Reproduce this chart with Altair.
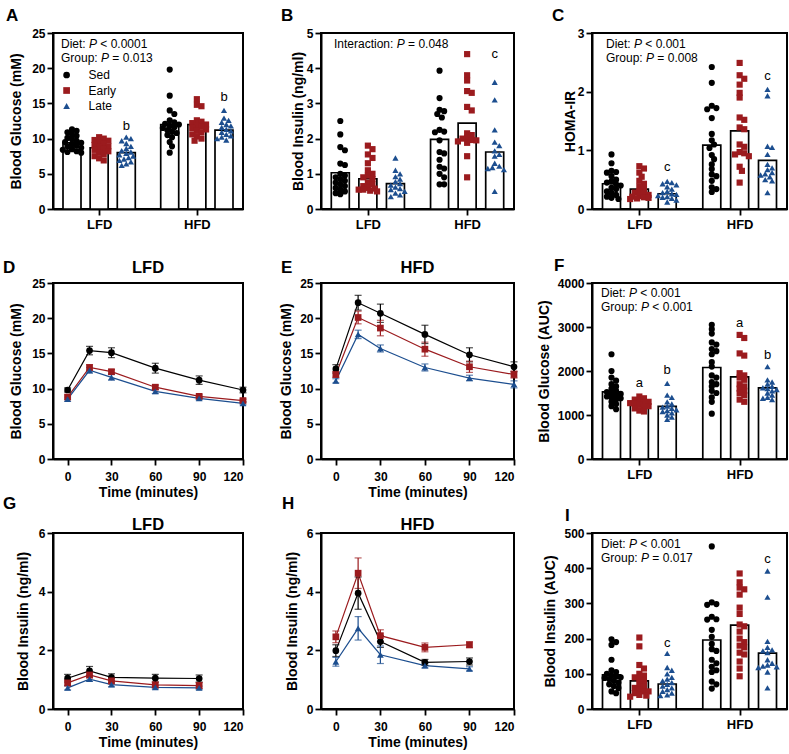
import altair as alt
import pandas as pd

FONT = "Liberation Sans"
GROUPS = ["Sed", "Early", "Late"]
DIETS = ["LFD", "HFD"]
COLORS = ["#000000", "#9b1b1e", "#1c4e8f"]
SHAPES = ["circle", "square", "triangle-up"]

PLOT_H = 176
COL_W = [190, 193, 195]

# ---------------- A: fasting blood glucose (mM)
glucose_pts = {
    "LFD": {
        "Sed": [11.3, 11.1, 10.9, 10.6, 10.4, 10.1, 9.9, 9.7, 9.5, 9.4, 9.2, 9.0, 8.9, 8.7, 8.5, 8.4, 8.2, 8.1, 8.0],
        "Early": [10.2, 10.0, 9.8, 9.7, 9.5, 9.3, 9.1, 8.9, 8.8, 8.6, 8.4, 8.2, 8.0, 7.8, 7.5, 7.2, 6.9],
        "Late": [10.2, 10.0, 9.7, 9.3, 8.9, 8.6, 8.3, 8.1, 7.9, 7.7, 7.5, 7.3, 7.1, 6.9, 6.7, 6.4, 6.2],
    },
    "HFD": {
        "Sed": [19.8, 16.1, 14.0, 13.5, 12.6, 12.3, 12.1, 12.0, 11.8, 11.6, 11.5, 11.2, 11.0, 10.8, 10.5, 10.2, 9.5, 8.9, 8.0],
        "Early": [15.6, 14.8, 14.6, 12.6, 12.4, 12.2, 12.0, 11.9, 11.7, 11.5, 11.3, 11.1, 10.9, 10.6, 10.3, 10.0, 9.7],
        "Late": [14.0, 12.9, 12.6, 12.3, 12.0, 11.8, 11.6, 11.3, 11.1, 10.9, 10.6, 10.4, 10.2, 10.0, 9.8],
    },
}
glucose_means = {"LFD": {"Sed": 9.4, "Early": 8.7, "Late": 8.0},
                 "HFD": {"Sed": 12.0, "Early": 12.0, "Late": 11.2}}
glucose_sig = [("LFD", "Late", "b", 11.2), ("HFD", "Late", "b", 15.3)]
glucose_notes = [("Diet: ", "P", " < 0.0001"), ("Group: ", "P", " = 0.013")]

# ---------------- B: fasting blood insulin (ng/ml)
insulin_pts = {
    "LFD": {
        "Sed": [2.50, 2.12, 1.76, 1.67, 1.29, 1.25, 1.00, 0.95, 0.90, 0.85, 0.80, 0.75, 0.70, 0.65, 0.60, 0.55, 0.50, 0.45, 0.42],
        "Early": [1.80, 1.70, 1.55, 1.45, 1.30, 1.10, 1.00, 0.95, 0.90, 0.85, 0.75, 0.70, 0.65, 0.60, 0.58, 0.55, 0.55, 0.52, 0.50],
        "Late": [1.45, 1.10, 1.00, 0.92, 0.85, 0.78, 0.72, 0.68, 0.62, 0.58, 0.55, 0.50, 0.45, 0.40, 0.35],
    },
    "HFD": {
        "Sed": [3.93, 3.15, 2.82, 2.78, 2.70, 2.60, 2.25, 2.20, 2.18, 1.95, 1.62, 1.58, 1.40, 1.20, 1.15, 1.00, 0.90, 0.70, 0.70],
        "Early": [4.40, 3.80, 3.65, 3.35, 3.30, 2.90, 2.80, 2.15, 2.10, 2.02, 2.00, 1.96, 1.95, 1.92, 1.88, 1.50, 0.90],
        "Late": [3.60, 3.10, 2.25, 1.90, 1.80, 1.65, 1.55, 1.50, 1.30, 1.22, 1.18, 1.15, 1.12, 0.50],
    },
}
insulin_means = {"LFD": {"Sed": 1.03, "Early": 0.86, "Late": 0.72},
                 "HFD": {"Sed": 1.98, "Early": 2.44, "Late": 1.62}}
insulin_sig = [("HFD", "Late", "c", 4.28)]
insulin_notes = [("Interaction: ", "P", " = 0.048")]

# ---------------- C: HOMA-IR
homa_pts = {
    "LFD": {
        "Sed": [0.93, 0.78, 0.65, 0.63, 0.62, 0.56, 0.50, 0.47, 0.45, 0.42, 0.40, 0.36, 0.34, 0.30, 0.27, 0.24, 0.21, 0.19, 0.17],
        "Early": [0.73, 0.69, 0.62, 0.55, 0.48, 0.43, 0.38, 0.34, 0.30, 0.28, 0.26, 0.24, 0.22, 0.21, 0.20, 0.19, 0.18, 0.17],
        "Late": [0.47, 0.45, 0.43, 0.41, 0.38, 0.34, 0.30, 0.28, 0.26, 0.25, 0.23, 0.21, 0.20, 0.18, 0.15, 0.12],
    },
    "HFD": {
        "Sed": [2.42, 2.15, 1.76, 1.72, 1.70, 1.55, 1.28, 1.17, 1.10, 1.04, 0.92, 0.85, 0.76, 0.68, 0.59, 0.56, 0.48, 0.37, 0.34, 0.29],
        "Early": [2.49, 2.28, 2.22, 2.12, 1.98, 1.90, 1.56, 1.52, 1.39, 1.36, 1.10, 1.06, 0.97, 0.95, 0.93, 0.90, 0.72, 0.65, 0.45],
        "Late": [2.04, 1.93, 1.07, 1.05, 0.93, 0.76, 0.70, 0.67, 0.62, 0.60, 0.58, 0.55, 0.50, 0.48, 0.28],
    },
}
homa_means = {"LFD": {"Sed": 0.43, "Early": 0.34, "Late": 0.26},
              "HFD": {"Sed": 1.09, "Early": 1.33, "Late": 0.83}}
homa_sig = [("LFD", "Late", "c", 0.64), ("HFD", "Late", "c", 2.2)]
homa_notes = [("Diet: ", "P", " < 0.001"), ("Group: ", "P", " = 0.008")]

# ---------------- D/E: glucose tolerance curves (mean, SEM)
gtt_times = [0, 15, 30, 60, 90, 120]
gtt_lfd_mean = {"Sed": [9.8, 15.4, 15.1, 12.9, 11.2, 9.8],
                "Early": [8.8, 13.0, 12.4, 10.2, 8.9, 8.3],
                "Late": [8.5, 12.6, 11.6, 9.6, 8.6, 7.9]}
gtt_lfd_sem = {"Sed": [0.3, 0.6, 0.7, 0.7, 0.6, 0.4],
               "Early": [0.3, 0.4, 0.3, 0.3, 0.2, 0.2],
               "Late": [0.3, 0.4, 0.4, 0.3, 0.2, 0.2]}
gtt_hfd_mean = {"Sed": [12.8, 22.2, 20.7, 17.7, 14.8, 13.1],
                "Early": [12.0, 20.1, 18.6, 15.6, 13.1, 12.0],
                "Late": [11.1, 17.7, 15.7, 13.0, 11.5, 10.6]}
gtt_hfd_sem = {"Sed": [0.6, 1.05, 1.3, 1.3, 1.0, 0.7],
               "Early": [0.4, 0.9, 1.1, 1.0, 0.8, 0.5],
               "Late": [0.3, 0.6, 0.5, 0.5, 0.4, 0.5]}

# ---------------- F: glucose AUC
gauc_pts = {
    "LFD": {
        "Sed": [2380, 2000, 1850, 1780, 1700, 1650, 1600, 1550, 1520, 1500, 1480, 1450, 1420, 1400, 1380, 1350, 1300, 1250, 1200, 1130],
        "Early": [1420, 1380, 1350, 1320, 1300, 1280, 1270, 1250, 1230, 1200, 1180, 1150, 1100, 1080],
        "Late": [1720, 1450, 1400, 1300, 1250, 1200, 1180, 1150, 1120, 1100, 1080, 1050, 1000, 950, 900],
    },
    "HFD": {
        "Sed": [3050, 2950, 2850, 2650, 2600, 2500, 2450, 2380, 2200, 2100, 1900, 1850, 1750, 1700, 1650, 1550, 1500, 1400, 1300, 1030],
        "Early": [2820, 2750, 2400, 2350, 1950, 1900, 1850, 1800, 1700, 1650, 1600, 1550, 1500, 1450, 1350, 1300],
        "Late": [2100, 1800, 1750, 1700, 1650, 1620, 1600, 1580, 1550, 1500, 1450, 1400, 1380, 1350],
    },
}
gauc_means = {"LFD": {"Sed": 1524, "Early": 1257, "Late": 1196},
              "HFD": {"Sed": 2080, "Early": 1867, "Late": 1615}}
gauc_sig = [("LFD", "Early", "a", 1639), ("LFD", "Late", "b", 1927),
            ("HFD", "Early", "a", 2994), ("HFD", "Late", "b", 2263)]
gauc_notes = [("Diet: ", "P", " < 0.001"), ("Group: ", "P", " < 0.001")]

# ---------------- G/H: insulin during the tolerance test (mean, SEM)
itt_times = [0, 15, 30, 60, 90]
ins_lfd_mean = {"Sed": [1.05, 1.30, 1.08, 1.05, 1.04],
                "Early": [0.89, 1.16, 0.96, 0.82, 0.80],
                "Late": [0.72, 1.02, 0.83, 0.74, 0.72]}
ins_lfd_sem = {"Sed": [0.13, 0.15, 0.12, 0.13, 0.12],
               "Early": [0.10, 0.10, 0.10, 0.10, 0.10],
               "Late": [0.07, 0.08, 0.07, 0.06, 0.06]}
ins_hfd_mean = {"Sed": [1.99, 3.95, 2.30, 1.59, 1.62],
                "Early": [2.46, 4.63, 2.50, 2.10, 2.19],
                "Late": [1.61, 2.75, 1.85, 1.48, 1.37]}
ins_hfd_sem = {"Sed": [0.20, 0.55, 0.20, 0.10, 0.12],
               "Early": [0.20, 0.52, 0.20, 0.15, 0.10],
               "Late": [0.15, 0.40, 0.30, 0.08, 0.07]}

# ---------------- I: insulin AUC
iauc_pts = {
    "LFD": {
        "Sed": [198, 190, 182, 140, 110, 105, 100, 95, 92, 90, 88, 85, 80, 75, 70, 65, 60, 50, 45],
        "Early": [203, 178, 125, 115, 100, 95, 90, 85, 80, 70, 65, 60, 55, 50, 50, 45, 40, 38, 35],
        "Late": [158, 118, 110, 100, 90, 85, 80, 75, 70, 65, 60, 55, 50, 45, 40, 38],
    },
    "HFD": {
        "Sed": [462, 303, 298, 296, 262, 255, 254, 225, 205, 185, 170, 165, 140, 130, 120, 110, 105, 78, 70, 58],
        "Early": [385, 360, 345, 340, 325, 288, 270, 240, 235, 220, 200, 190, 180, 175, 160, 155, 135, 115, 93],
        "Late": [392, 318, 192, 175, 168, 165, 160, 140, 130, 125, 122, 120, 118, 105, 60],
    },
}
iauc_means = {"LFD": {"Sed": 97, "Early": 80, "Late": 71},
              "HFD": {"Sed": 196, "Early": 238, "Late": 159}}
iauc_sig = [("LFD", "Late", "c", 175), ("HFD", "Late", "c", 414)]
iauc_notes = [("Diet: ", "P", " < 0.001"), ("Group: ", "P", " = 0.017")]

# group centres on a 0..7 axis (three bars per diet)
SLOTS = {"LFD": [0.7, 1.7, 2.7], "HFD": [4.3, 5.3, 6.3]}

# Arial / Liberation Sans advance widths (per 1000 em) for the annotation strings
_ADV = {" ": 278, "D": 722, "i": 222, "e": 556, "t": 278, ":": 278, "G": 778, "r": 333,
        "o": 556, "u": 556, "p": 556, "I": 278, "n": 556, "a": 556, "c": 500, "<": 584,
        "=": 584, ".": 278, "P": 667}


def text_width(s, size):
    return sum(_ADV.get(ch, 556) for ch in s) * size / 1000.0


def swarm(vals, px_per_unit, d=4.3, step=2.3, kmax=4):
    """Horizontal offsets (px) so that markers in one column spread sideways."""
    placed = []
    offs = [0.0] * len(vals)
    order = sorted(range(len(vals)), key=lambda i: -vals[i])
    cands = [0.0]
    for k in range(1, kmax + 1):
        cands += [k * step, -k * step]
    for i in order:
        y = vals[i] * px_per_unit
        chosen = None
        for c in cands:
            if all((c - px) ** 2 + (y - py) ** 2 >= d * d for px, py in placed):
                chosen = c
                break
        if chosen is None:
            chosen = max(cands, key=lambda c: min((c - px) ** 2 + (y - py) ** 2 for px, py in placed))
        placed.append((chosen, y))
        offs[i] = chosen
    return offs


def label(text, x, y, size, weight="normal", style="normal", align="left"):
    return alt.Chart(pd.DataFrame({"t": [text]})).mark_text(
        font=FONT, fontSize=size, fontWeight=weight, fontStyle=style,
        align=align, baseline="alphabetic", color="black"
    ).encode(x=alt.value(x), y=alt.value(y), text="t:N")


def note_layers(notes, x0, y0, dy):
    out = []
    for li, (pre, p, post) in enumerate(notes):
        y = y0 + li * dy
        x1 = x0 + text_width(pre, 12)
        x2 = x1 + text_width(p, 12)
        out.append(label(pre.strip(), x0, y, 12))
        out.append(label(p, x1, y, 12, style="italic"))
        out.append(label(post.strip(), x2 + text_width(" ", 12), y, 12))
    return out


color_scale = alt.Scale(domain=GROUPS, range=COLORS)
shape_scale = alt.Scale(domain=GROUPS, range=SHAPES)


def bar_panel(pts, means, sig, notes, ymax, ystep, ytitle, title_x, width,
              letter, letter_dx, note_xy, legend=False):
    unit = width / 7.0
    ky = PLOT_H / ymax
    half = 9.0 / unit
    prow, brow, srow = [], [], []
    for diet in DIETS:
        for gi, g in enumerate(GROUPS):
            c = SLOTS[diet][gi]
            vals = pts[diet][g]
            for v, o in zip(vals, swarm(vals, ky)):
                prow.append({"x": c + o / unit, "y": v, "group": g})
            brow.append({"x": c - half, "x2": c + half, "y": means[diet][g], "y0": 0,
                         "group": g})
    for diet, g, txt, v in sig:
        srow.append({"x": SLOTS[diet][GROUPS.index(g)], "y": v, "t": txt})

    xs = alt.Scale(domain=[0, 7], nice=False, zero=False)
    ys = alt.Scale(domain=[0, ymax], nice=False)
    xaxis = alt.Axis(values=[1.7, 5.3], labelExpr="datum.value < 3.5 ? 'LFD' : 'HFD'",
                     title=None, labelFontSize=13, labelPadding=3)
    yaxis = alt.Axis(values=list(range(0, ymax + ystep, ystep)), format="d", title=ytitle,
                     titleX=title_x, titleY=PLOT_H / 2, titleBaseline="alphabetic")

    bars = alt.Chart(pd.DataFrame(brow)).mark_bar(
        fill="white", stroke="black", strokeWidth=1.7
    ).encode(x=alt.X("x:Q", scale=xs, axis=xaxis), x2="x2:Q",
             y=alt.Y("y:Q", scale=ys, axis=yaxis), y2="y0:Q")

    if legend:
        leg = alt.Legend(orient="none", legendX=7.6, legendY=36, title=None, padding=0,
                         labelFont=FONT, labelFontSize=12, labelColor="black",
                         symbolSize=45, symbolStrokeWidth=0, labelOffset=16, rowPadding=3.5)
    else:
        leg = None
    dots = alt.Chart(pd.DataFrame(prow)).mark_point(
        filled=True, size=38, opacity=1
    ).encode(x=alt.X("x:Q", scale=xs, axis=xaxis), y=alt.Y("y:Q", scale=ys, axis=yaxis),
             color=alt.Color("group:N", scale=color_scale, legend=leg),
             shape=alt.Shape("group:N", scale=shape_scale, legend=leg))

    sigs = alt.Chart(pd.DataFrame(srow)).mark_text(
        font=FONT, fontSize=13, baseline="alphabetic", align="center", color="black"
    ).encode(x=alt.X("x:Q", scale=xs, axis=xaxis), y=alt.Y("y:Q", scale=ys, axis=yaxis), text="t:N")

    layers = [bars, dots, sigs]
    layers += note_layers(notes, note_xy[0], note_xy[1], 14)
    layers.append(label(letter, letter_dx, -12, 17, weight="bold"))
    return alt.layer(*layers).properties(width=width, height=PLOT_H)


def line_panel(times, means, sems, ymax, ystep, ytitle, title_x, width,
               letter, letter_dx, letter_y, heading, heading_y):
    rows = []
    for g in GROUPS:
        for t, m, s in zip(times, means[g], sems[g]):
            rows.append({"t": t, "m": m, "lo": m - s, "hi": m + s, "group": g})
    df = pd.DataFrame(rows)
    xs = alt.Scale(domain=[-10, 120], nice=False, zero=False)
    ys = alt.Scale(domain=[0, ymax], nice=False)
    xaxis = alt.Axis(values=[0, 30, 60, 90, 120], title="Time (minutes)", labelPadding=6,
                     titlePadding=3)
    yaxis = alt.Axis(values=list(range(0, ymax + ystep, ystep)), format="d", title=ytitle,
                     titleX=title_x, titleY=PLOT_H / 2, titleBaseline="alphabetic")
    col = alt.Color("group:N", scale=color_scale, legend=None)
    base = alt.Chart(df)
    line = base.mark_line(strokeWidth=1.2).encode(
        x=alt.X("t:Q", scale=xs, axis=xaxis), y=alt.Y("m:Q", scale=ys, axis=yaxis), color=col)
    err = base.mark_errorbar(ticks=True, size=7, thickness=1.2).encode(
        x=alt.X("t:Q", scale=xs, axis=xaxis), y=alt.Y("lo:Q", scale=ys, axis=yaxis),
        y2="hi:Q", color=col)
    pts = base.mark_point(filled=True, size=45, opacity=1).encode(
        x=alt.X("t:Q", scale=xs, axis=xaxis), y=alt.Y("m:Q", scale=ys, axis=yaxis), color=col,
        shape=alt.Shape("group:N", scale=shape_scale, legend=None))
    layers = [line, err, pts,
              label(letter, letter_dx, letter_y, 17, weight="bold"),
              label(heading, width / 2, heading_y, 16.5, weight="bold", align="center")]
    return alt.layer(*layers).properties(width=width, height=PLOT_H)


pA = bar_panel(glucose_pts, glucose_means, glucose_sig, glucose_notes, 25, 5,
               "Blood Glucose (mM)", -33, COL_W[0], "A", -47, (8, 15), legend=True)
pB = bar_panel(insulin_pts, insulin_means, insulin_sig, insulin_notes, 5, 1,
               "Blood Insulin (ng/ml)", -19, COL_W[1], "B", -40, (13, 15))
pC = bar_panel(homa_pts, homa_means, homa_sig, homa_notes, 3, 1,
               "HOMA-IR", -18, COL_W[2], "C", -40, (14, 15))
pD = line_panel(gtt_times, gtt_lfd_mean, gtt_lfd_sem, 25, 5, "Blood Glucose (mM)", -33,
                COL_W[0], "D", -50, -10, "LFD", -10)
pE = line_panel(gtt_times, gtt_hfd_mean, gtt_hfd_sem, 25, 5, "Blood Glucose (mM)", -31,
                COL_W[1], "E", -40, -10, "HFD", -10)
pF = bar_panel(gauc_pts, gauc_means, gauc_sig, gauc_notes, 4000, 1000,
               "Blood Glucose (AUC)", -44, COL_W[2], "F", -38, (9, 14))
pG = line_panel(itt_times, ins_lfd_mean, ins_lfd_sem, 6, 2, "Blood Insulin (ng/ml)", -26,
                COL_W[0], "G", -50, -24, "LFD", -3)
pH = line_panel(itt_times, ins_hfd_mean, ins_hfd_sem, 6, 2, "Blood Insulin (ng/ml)", -25,
                COL_W[1], "H", -39, -24, "HFD", -3)
pI = bar_panel(iauc_pts, iauc_means, iauc_sig, iauc_notes, 500, 100,
               "Blood Insulin (AUC)", -38, COL_W[2], "I", -27, (9, 15))

chart = alt.concat(
    pA, pB, pC, pD, pE, pF, pG, pH, pI,
    columns=3, spacing={"row": 74, "column": 78}, bounds="flush",
    padding={"left": 2, "top": 6, "right": 0, "bottom": 0},
).resolve_scale(color="independent", shape="independent").configure(
    font=FONT
).configure_view(
    stroke="black", strokeWidth=2
).configure_axis(
    domainColor="black", domainWidth=2, tickColor="black", tickWidth=1.8, tickSize=6,
    labelFont=FONT, labelFontWeight="bold", labelFontSize=12, labelColor="black", labelPadding=2,
    titleFont=FONT, titleFontWeight="bold", titleFontSize=14, titleColor="black", grid=False,
)

chart.save("out.html", embed_options={"renderer": "svg", "actions": False})
